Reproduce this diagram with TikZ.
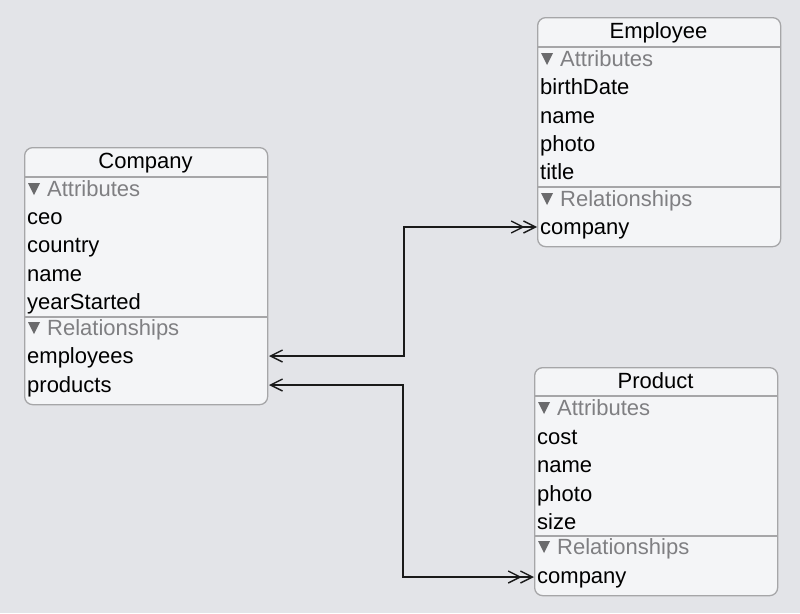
\documentclass[tikz,border=0pt]{standalone}
\usepackage{fontspec}
\setmainfont{Liberation Sans}
\usetikzlibrary{arrows.meta}
\definecolor{bgc}{HTML}{E3E4E8}
\definecolor{boxfill}{HTML}{F4F5F7}
\definecolor{boxline}{HTML}{A6A6A8}
\definecolor{hdrc}{HTML}{7F7F82}
\definecolor{tric}{HTML}{6A6A6C}
\definecolor{relc}{HTML}{1A1A1A}
\tikzset{
  entity/.style={draw=boxline, fill=boxfill, rounded corners=8pt, line width=1.3pt,
    inner sep=0pt, anchor=north west, minimum width=243pt},
  sepline/.style={draw=boxline, line width=1.3pt},
  etitle/.style={font=\fontsize{22}{24}\selectfont, text=black, anchor=base, inner sep=0pt, yshift=-7.5pt},
  row/.style={font=\fontsize{22}{24}\selectfont, text=black, anchor=base west, inner sep=0pt, yshift=-7.5pt},
  hdr/.style={font=\fontsize{22}{24}\selectfont, text=hdrc, anchor=base west, inner sep=0pt, yshift=-7pt},
  tri/.style={fill=tric},
  rel/.style={draw=relc, line width=1.4pt},
  sgl/.tip={Straight Barb[length=12pt,width=12pt,line width=1.4pt]},
  dbl/.tip={Straight Barb[length=12pt,width=12pt,line width=1.4pt,sep=-2pt]Straight Barb[length=12pt,width=12pt,line width=1.4pt]}
}
% header triangle: #1 = left x, #2 = row centre y
\newcommand{\hdrtri}[2]{\fill[tri] (#1+1,#2-6) -- (#1+13,#2-6) -- (#1+7,#2+6) -- cycle;}
\begin{document}
\begin{tikzpicture}[x=1pt,y=-1pt]
\fill[bgc] (0,0) rectangle (800,613);
\useasboundingbox (0,0) rectangle (800,613);

% Company
\node[entity, minimum height=257pt] (co) at (24,147) {};
\draw[sepline] (24,177) -- (267,177);
\draw[sepline] (24,317) -- (267,317);
\node[etitle] (co-t) at (145.5,161) {Company};
\hdrtri{27}{189}
\node[hdr] (co-ha) at (47,189) {Attributes};
\node[row] (co-ceo) at (27,217) {ceo};
\node[row] (co-country) at (27,245) {country};
\node[row] (co-name) at (27,274) {name};
\node[row] (co-year) at (27,302) {yearStarted};
\hdrtri{27}{328}
\node[hdr] (co-hr) at (47,328) {Relationships};
\node[row] (co-emp) at (27,356) {employees};
\node[row] (co-prod) at (27,385) {products};

% Employee
\node[entity, minimum height=229pt] (em) at (537,17) {};
\draw[sepline] (537,47) -- (780,47);
\draw[sepline] (537,187) -- (780,187);
\node[etitle] (em-t) at (658.5,31) {Employee};
\hdrtri{540}{59}
\node[hdr] (em-ha) at (560,59) {Attributes};
\node[row] (em-birth) at (540,87) {birthDate};
\node[row] (em-name) at (540,116) {name};
\node[row] (em-photo) at (540,144) {photo};
\node[row] (em-title) at (540,172) {title};
\hdrtri{540}{199}
\node[hdr] (em-hr) at (560,199) {Relationships};
\node[row] (em-comp) at (540,227) {company};

% Product
\node[entity, minimum height=228pt] (pr) at (534,367) {};
\draw[sepline] (534,396) -- (777,396);
\draw[sepline] (534,536) -- (777,536);
\node[etitle] (pr-t) at (655.5,381) {Product};
\hdrtri{537}{408}
\node[hdr] (pr-ha) at (557,408) {Attributes};
\node[row] (pr-cost) at (537,437) {cost};
\node[row] (pr-name) at (537,465) {name};
\node[row] (pr-photo) at (537,494) {photo};
\node[row] (pr-size) at (537,522) {size};
\hdrtri{537}{547}
\node[hdr] (pr-hr) at (557,547) {Relationships};
\node[row] (pr-comp) at (537,576) {company};

% connectors
\coordinate (bx1) at (404,0);
\coordinate (bx2) at (403,0);
\coordinate (emA) at (537,227);
\coordinate (coA) at (269,356);
\coordinate (prA) at (534,577);
\coordinate (coB) at (269,385);
\draw[rel, {dbl}-{sgl}] (emA) -- (emA -| bx1) |- (coA);
\draw[rel, {dbl}-{sgl}] (prA) -- (prA -| bx2) |- (coB);
\end{tikzpicture}
\end{document}
